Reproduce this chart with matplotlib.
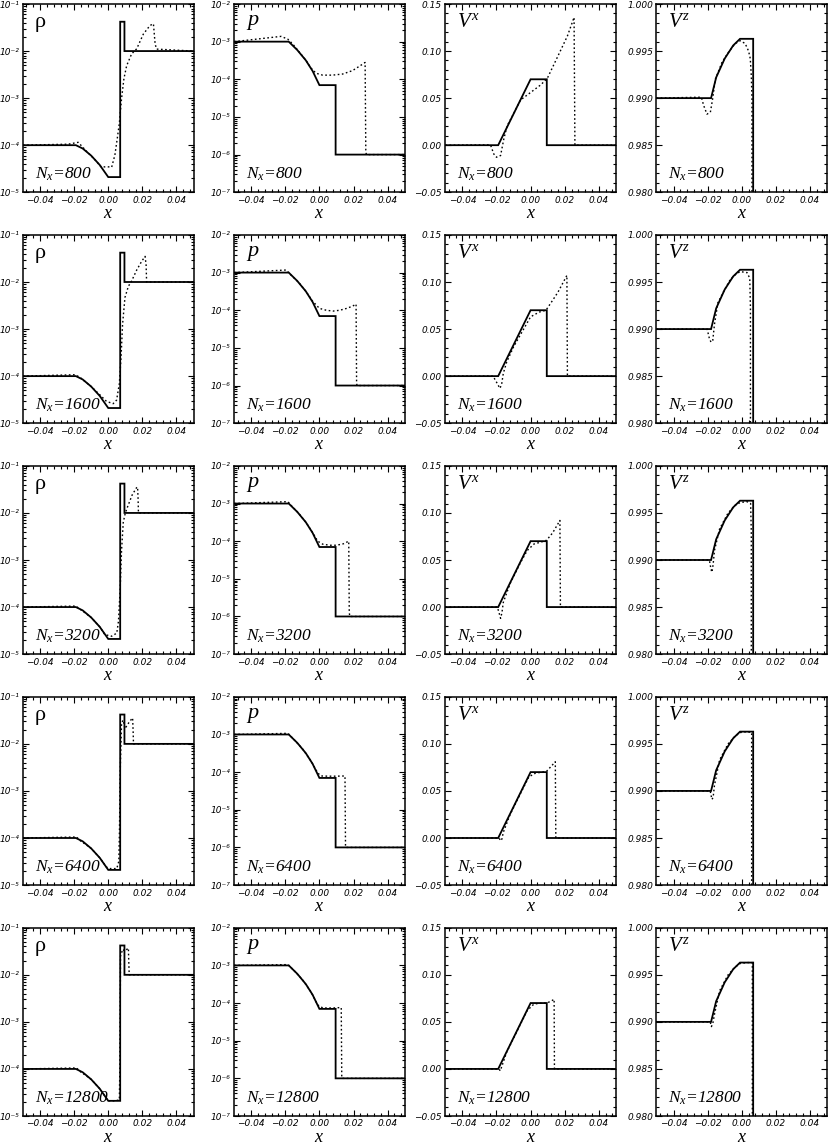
import numpy as np
import matplotlib
matplotlib.use('Agg')
import matplotlib.pyplot as plt
from matplotlib.ticker import MultipleLocator, FixedLocator, FixedFormatter, LogLocator, NullFormatter

plt.rcParams['mathtext.fontset'] = 'custom'
plt.rcParams['mathtext.rm'] = 'Liberation Serif'
plt.rcParams['mathtext.it'] = 'Liberation Serif:italic'
plt.rcParams['mathtext.bf'] = 'Liberation Serif:bold'

# ---------------- data ----------------
resolutions = [800, 1600, 3200, 6400, 12800]

# exact solution (same in every row)
x_exact_rho = [-0.05, -0.019, -0.015, -0.010, -0.005, 0.000, 0.007, 0.007, 0.0095, 0.0095, 0.05]
rho_exact = [1.0e-4, 1.0e-4, 8.5e-5, 6.0e-5, 3.8e-5, 2.1e-5, 2.1e-5, 4.2e-2, 4.2e-2, 1.0e-2, 1.0e-2]

x_exact_p = [-0.05, -0.018, -0.013, -0.008, -0.004, 0.000, 0.0095, 0.0095, 0.05]
p_exact = [1.0e-3, 1.0e-3, 6.0e-4, 3.2e-4, 1.66e-4, 7.0e-5, 7.0e-5, 1.0e-6, 1.0e-6]

x_exact_vx = [-0.05, -0.019, 0.000, 0.0095, 0.0095, 0.05]
vx_exact = [0.0, 0.0, 0.070, 0.070, 0.0, 0.0]

x_exact_vz = [-0.05, -0.018, -0.015, -0.010, -0.005, -0.001, 0.0067, 0.0067, 0.05]
vz_exact = [0.990, 0.990, 0.9922, 0.9942, 0.9956, 0.9963, 0.9963, 0.0, 0.0]

# numerical solutions, N_x = 800
rho800_x = [-0.05, -0.0235, -0.0176, -0.013, -0.008, -0.004, -0.001, 0.002, 0.0039, 0.0053, 0.0065,
            0.0078, 0.0092, 0.0108, 0.0137, 0.0167, 0.0206, 0.0245, 0.0265, 0.0275, 0.0284, 0.05]
rho800_y = [1.0e-4, 1.05e-4, 1.15e-4, 7.6e-5, 5.0e-5, 3.4e-5, 3.5e-5, 3.4e-5, 6.2e-5, 1.4e-4, 2.9e-4,
            9.8e-4, 2.6e-3, 4.9e-3, 8.7e-3, 1.12e-2, 2.3e-2, 3.5e-2, 3.8e-2, 1.4e-2, 1.1e-2, 1.0e-2]
p800_x = [-0.05, -0.0225, -0.0186, -0.0157, -0.0079, -0.005, -0.002, 0.0019, 0.0077, 0.0136, 0.0194,
          0.0252, 0.0268, 0.0272, 0.0275, 0.05]
p800_y = [1.0e-3, 1.38e-3, 1.17e-3, 8.7e-4, 3.2e-4, 2.0e-4, 1.45e-4, 1.29e-4, 1.29e-4, 1.38e-4, 1.7e-4,
          2.5e-4, 2.8e-4, 1.3e-6, 1.0e-6, 1.0e-6]
vx800_x = [-0.05, -0.0235, -0.0216, -0.020, -0.0176, -0.0157, -0.0137, -0.0098, -0.0059, 0.0, 0.0059,
           0.0098, 0.0157, 0.0216, 0.0255, 0.0260, 0.05]
vx800_y = [0.0, 0.0003, -0.0093, -0.0128, -0.011, 0.0066, 0.0208, 0.034, 0.048, 0.056, 0.064,
           0.071, 0.0934, 0.116, 0.1358, 0.0, 0.0]
vz800_x = [-0.05, -0.0237, -0.0223, -0.0204, -0.0184, -0.0171, -0.0155, -0.0116, -0.0077, -0.0038,
           -0.0009, 0.0020, 0.0040, 0.0050, 0.0056, 0.0060, 0.0065, 0.05]
vz800_y = [0.990, 0.9901, 0.9892, 0.9883, 0.9885, 0.9899, 0.9920, 0.9938, 0.9949, 0.9958,
           0.9961, 0.9958, 0.9950, 0.9942, 0.9924, 0.9899, 0.0, 0.0]

# N_x = 1600
rho1600_x = [-0.05, -0.0196, -0.0167, -0.010, -0.0049, -0.001, 0.0029, 0.0049, 0.0065, 0.0075, 0.0084,
             0.0098, 0.0118, 0.0137, 0.0167, 0.0196, 0.0216, 0.0222, 0.0225, 0.05]
rho1600_y = [1.0e-4, 1.07e-4, 9.5e-5, 6.0e-5, 4.0e-5, 2.9e-5, 2.6e-5, 3.1e-5, 6.9e-5, 2.5e-4, 1.26e-3,
             4.7e-3, 8.1e-3, 1.05e-2, 1.8e-2, 2.75e-2, 3.5e-2, 2.3e-2, 1.0e-2, 1.0e-2]
p1600_x = [-0.05, -0.0195, -0.017, -0.012, -0.008, -0.004, 0.0, 0.004, 0.008, 0.012, 0.016, 0.0195,
           0.0215, 0.0218, 0.022, 0.05]
p1600_y = [1.0e-3, 1.17e-3, 8.9e-4, 5.4e-4, 3.2e-4, 1.74e-4, 1.12e-4, 1.0e-4, 9.5e-5, 1.0e-4, 1.12e-4,
           1.29e-4, 1.45e-4, 1.3e-6, 1.0e-6, 1.0e-6]
vx1600_x = [-0.05, -0.022, -0.0195, -0.018, -0.017, -0.016, -0.014, -0.010, -0.005, 0.0, 0.005, 0.009,
            0.012, 0.016, 0.0213, 0.0216, 0.05]
vx1600_y = [0.0, 0.0, -0.008, -0.013, -0.009, 0.003, 0.015, 0.031, 0.047, 0.063, 0.068, 0.070,
            0.078, 0.089, 0.107, 0.0, 0.0]
vz1600_x = [-0.05, -0.0203, -0.0190, -0.0180, -0.0170, -0.0160, -0.0140, -0.010, -0.0066, -0.003,
            -0.0008, 0.0031, 0.0047, 0.0051, 0.0053, 0.05]
vz1600_y = [0.990, 0.9900, 0.9890, 0.9886, 0.9888, 0.9905, 0.9928, 0.9942, 0.9953, 0.9959,
            0.9961, 0.9960, 0.9954, 0.9923, 0.0, 0.0]

# N_x = 3200
rho3200_x = [-0.05, -0.019, -0.017, -0.010, -0.005, -0.002, 0.002, 0.005, 0.006, 0.007, 0.0078, 0.0088,
             0.0100, 0.0115, 0.0140, 0.0165, 0.0172, 0.0175, 0.0177, 0.05]
rho3200_y = [1.0e-4, 1.05e-4, 9.3e-5, 6.0e-5, 3.8e-5, 2.6e-5, 2.4e-5, 2.8e-5, 5.0e-5, 2.5e-4, 1.6e-3,
             6.3e-3, 1.0e-2, 1.4e-2, 2.4e-2, 3.4e-2, 3.55e-2, 2.0e-2, 1.0e-2, 1.0e-2]
p3200_x = [-0.05, -0.0185, -0.016, -0.012, -0.008, -0.004, -0.001, 0.002, 0.006, 0.010, 0.014, 0.0172,
           0.0175, 0.0178, 0.05]
p3200_y = [1.0e-3, 1.12e-3, 8.3e-4, 5.4e-4, 3.2e-4, 1.7e-4, 1.0e-4, 8.3e-5, 7.8e-5, 7.8e-5, 8.5e-5,
           1.0e-4, 1.3e-6, 1.0e-6, 1.0e-6]
vx3200_x = [-0.05, -0.0195, -0.0185, -0.0176, -0.0168, -0.016, -0.012, -0.006, -0.002, 0.002, 0.006,
            0.0094, 0.013, 0.0172, 0.0175, 0.05]
vx3200_y = [0.0, 0.0, -0.006, -0.012, -0.006, 0.005, 0.025, 0.047, 0.060, 0.067, 0.069,
            0.071, 0.079, 0.092, 0.0, 0.0]
vz3200_x = [-0.05, -0.0190, -0.0180, -0.0175, -0.0168, -0.016, -0.013, -0.008, -0.004, -0.001, 0.003,
            0.0052, 0.0056, 0.0058, 0.05]
vz3200_y = [0.990, 0.9900, 0.9890, 0.9887, 0.9895, 0.9910, 0.9933, 0.9950, 0.9958, 0.9961, 0.9962,
            0.9960, 0.9930, 0.0, 0.0]

# N_x = 6400
rho6400_x = [-0.05, -0.0185, -0.017, -0.010, -0.005, -0.001, 0.001, 0.005, 0.0062, 0.0066, 0.0070,
             0.0078, 0.0088, 0.0098, 0.0120, 0.0135, 0.0143, 0.0146, 0.0148, 0.05]
rho6400_y = [1.0e-4, 1.05e-4, 9.1e-5, 6.0e-5, 3.8e-5, 2.4e-5, 2.24e-5, 2.24e-5, 3.2e-5, 1.6e-4, 2.5e-3,
             2.8e-2, 3.2e-2, 2.1e-2, 2.8e-2, 3.3e-2, 3.55e-2, 1.8e-2, 1.0e-2, 1.0e-2]
p6400_x = [-0.05, -0.0185, -0.015, -0.010, -0.005, -0.001, 0.001, 0.005, 0.010, 0.015, 0.0153, 0.0155, 0.05]
p6400_y = [1.0e-3, 1.07e-3, 7.4e-4, 4.2e-4, 2.0e-4, 9.5e-5, 7.9e-5, 7.8e-5, 7.8e-5, 7.9e-5, 1.1e-6,
           1.0e-6, 1.0e-6]
vx6400_x = [-0.05, -0.0185, -0.0175, -0.0168, -0.016, -0.012, -0.006, -0.001, 0.003, 0.007, 0.0094,
            0.012, 0.0145, 0.0148, 0.05]
vx6400_y = [0.0, 0.0, -0.003, -0.001, 0.006, 0.025, 0.047, 0.065, 0.069, 0.070, 0.071,
            0.076, 0.081, 0.0, 0.0]
vz6400_x = [-0.05, -0.0185, -0.0175, -0.0168, -0.016, -0.013, -0.008, -0.004, -0.001, 0.003, 0.0058,
            0.0062, 0.05]
vz6400_y = [0.990, 0.9900, 0.9891, 0.9893, 0.9906, 0.9933, 0.9950, 0.9958, 0.9962, 0.9963, 0.9962,
            0.0, 0.0]

# N_x = 12800
rho12800_x = [-0.05, -0.0185, -0.017, -0.010, -0.005, 0.0, 0.004, 0.0065, 0.0068, 0.0072, 0.0085,
              0.0095, 0.0110, 0.0118, 0.0121, 0.0123, 0.05]
rho12800_y = [1.0e-4, 1.05e-4, 9.1e-5, 6.0e-5, 3.8e-5, 2.1e-5, 2.1e-5, 2.2e-5, 1.0e-4, 2.5e-2, 3.5e-2,
              3.2e-2, 3.5e-2, 3.7e-2, 1.6e-2, 1.0e-2, 1.0e-2]
p12800_x = [-0.05, -0.0185, -0.015, -0.010, -0.005, -0.001, 0.002, 0.008, 0.0128, 0.0131, 0.0133, 0.05]
p12800_y = [1.0e-3, 1.05e-3, 7.4e-4, 4.2e-4, 2.0e-4, 8.9e-5, 7.4e-5, 7.4e-5, 7.6e-5, 1.1e-6, 1.0e-6, 1.0e-6]
vx12800_x = [-0.05, -0.0185, -0.0178, -0.017, -0.014, -0.008, -0.002, 0.002, 0.007, 0.0094, 0.012,
             0.0138, 0.0140, 0.05]
vx12800_y = [0.0, 0.0, -0.002, 0.002, 0.018, 0.040, 0.062, 0.069, 0.070, 0.070, 0.072,
             0.074, 0.0, 0.0]
vz12800_x = [-0.05, -0.0185, -0.0178, -0.017, -0.016, -0.013, -0.008, -0.004, -0.001, 0.003, 0.0062,
             0.0065, 0.05]
vz12800_y = [0.990, 0.9900, 0.9895, 0.9898, 0.9908, 0.9933, 0.9950, 0.9958, 0.9962, 0.9963, 0.9963,
             0.0, 0.0]

# tick labels
x_ticks = [-0.04, -0.02, 0.0, 0.02, 0.04]
x_ticklabels = ['\u22120.04', '\u22120.02', '0.00', '0.02', '0.04']
rho_ticks = [1e-5, 1e-4, 1e-3, 1e-2, 1e-1]
rho_ticklabels = ['10\u207b\u2075', '10\u207b\u2074', '10\u207b\u00b3', '10\u207b\u00b2', '10\u207b\u00b9']
p_ticks = [1e-7, 1e-6, 1e-5, 1e-4, 1e-3, 1e-2]
p_ticklabels = ['10\u207b\u2077', '10\u207b\u2076', '10\u207b\u2075', '10\u207b\u2074', '10\u207b\u00b3',
                '10\u207b\u00b2']
vx_ticks = [-0.05, 0.0, 0.05, 0.10, 0.15]
vx_ticklabels = ['\u22120.05', '0.00', '0.05', '0.10', '0.15']
vz_ticks = [0.980, 0.985, 0.990, 0.995, 1.000]
vz_ticklabels = ['0.980', '0.985', '0.990', '0.995', '1.000']

panel_titles = ['\u03c1', r'$p$', r'$V^x$', r'$V^z$']

numeric = [
    [(rho800_x, rho800_y), (p800_x, p800_y), (vx800_x, vx800_y), (vz800_x, vz800_y)],
    [(rho1600_x, rho1600_y), (p1600_x, p1600_y), (vx1600_x, vx1600_y), (vz1600_x, vz1600_y)],
    [(rho3200_x, rho3200_y), (p3200_x, p3200_y), (vx3200_x, vx3200_y), (vz3200_x, vz3200_y)],
    [(rho6400_x, rho6400_y), (p6400_x, p6400_y), (vx6400_x, vx6400_y), (vz6400_x, vz6400_y)],
    [(rho12800_x, rho12800_y), (p12800_x, p12800_y), (vx12800_x, vx12800_y), (vz12800_x, vz12800_y)],
]
exact = [(x_exact_rho, rho_exact), (x_exact_p, p_exact), (x_exact_vx, vx_exact), (x_exact_vz, vz_exact)]
ylims = [(1e-5, 1e-1), (1e-7, 1e-2), (-0.05, 0.15), (0.980, 1.000)]
yticks = [(rho_ticks, rho_ticklabels), (p_ticks, p_ticklabels), (vx_ticks, vx_ticklabels), (vz_ticks, vz_ticklabels)]
ylog = [True, True, False, False]
yminor = [None, None, 0.01, 0.001]

# ---------------- figure ----------------
fig, axes = plt.subplots(5, 4, figsize=(8.3, 11.46), dpi=100)
fig.subplots_adjust(left=23 / 830, right=827 / 830, top=1 - 4 / 1146, bottom=1 - 1116 / 1146,
                    wspace=0.2385, hspace=0.2268)

tick_font = dict(family='DejaVu Sans', style='italic', size=6.5)

for r in range(5):
    for c in range(4):
        ax = axes[r, c]
        ex, ey = exact[c]
        nx, ny = numeric[r][c]
        ax.plot(ex, ey, color='black', lw=1.3, solid_joinstyle='miter')
        ax.plot(nx, ny, color='black', lw=1.0, linestyle=(0, (1.2, 1.8)))
        if ylog[c]:
            ax.set_yscale('log')
            ax.yaxis.set_minor_locator(LogLocator(base=10, subs=np.arange(2, 10)))
            ax.yaxis.set_minor_formatter(NullFormatter())
        else:
            ax.yaxis.set_minor_locator(MultipleLocator(yminor[c]))
        ax.set_xlim(-0.05, 0.05)
        ax.set_ylim(*ylims[c])
        ax.xaxis.set_major_locator(FixedLocator(x_ticks))
        ax.xaxis.set_major_formatter(FixedFormatter(x_ticklabels))
        ax.xaxis.set_minor_locator(MultipleLocator(0.004))
        ticks, labels = yticks[c]
        ax.yaxis.set_major_locator(FixedLocator(ticks))
        ax.yaxis.set_major_formatter(FixedFormatter(labels))
        ax.tick_params(which='both', direction='in', top=True, right=True, width=0.8)
        ax.tick_params(which='major', length=4.5, pad=2.5)
        ax.tick_params(which='minor', length=2.3)
        for lab in ax.get_xticklabels() + ax.get_yticklabels():
            lab.set_fontproperties(tick_font)
        for s in ax.spines.values():
            s.set_linewidth(1.1)
        ax.set_xlabel(r'$x$', fontsize=13, labelpad=-0.5)
        ax.text(0.07, 0.95, panel_titles[c], transform=ax.transAxes, va='top', ha='left',
                fontsize=16 if c < 2 else 15,
                family='Liberation Serif')
        ax.text(0.07, 0.05, r'$N_x$=%d' % resolutions[r], transform=ax.transAxes,
                va='bottom', ha='left', fontsize=12.5, family='Liberation Serif', style='italic')

fig.savefig('out.png', dpi=100)
